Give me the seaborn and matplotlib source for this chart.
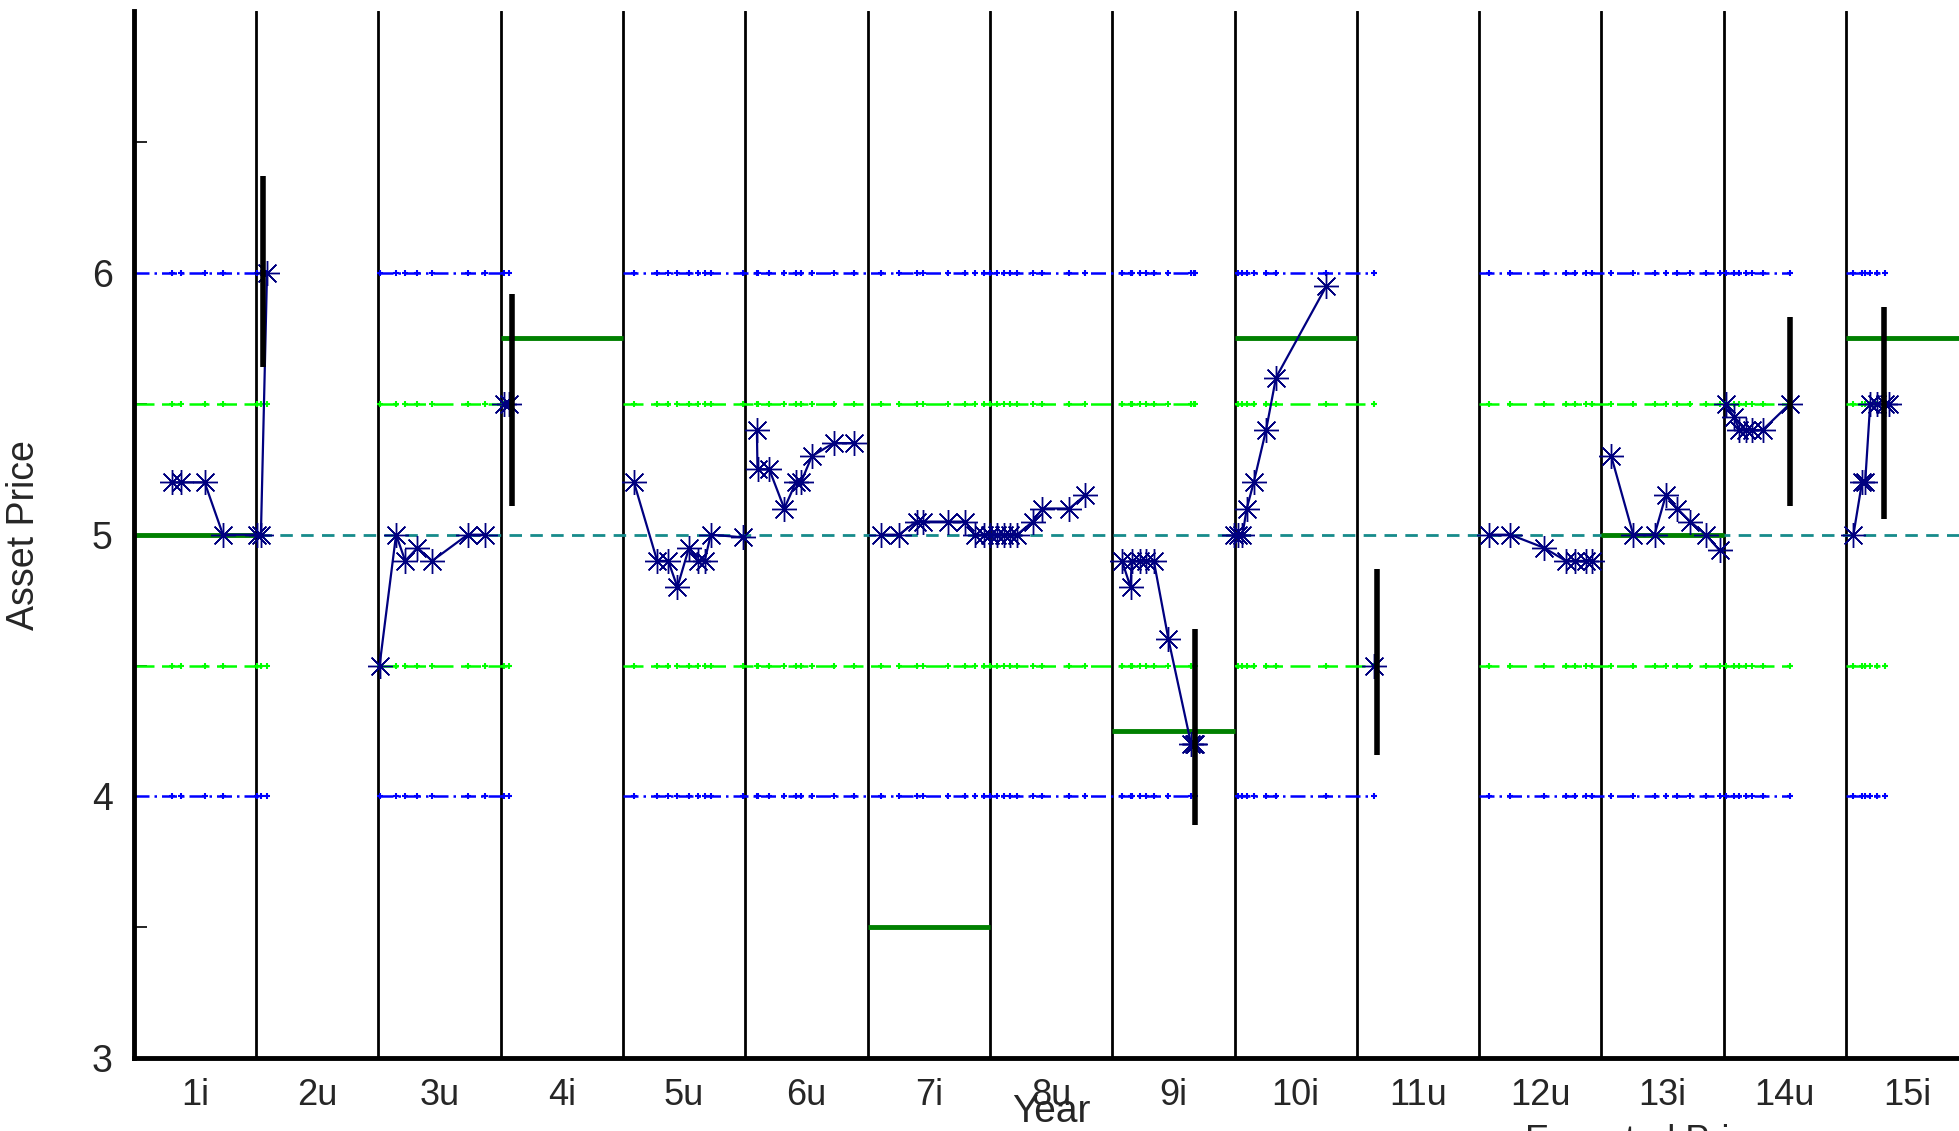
import numpy as np
import pandas as pd
import seaborn as sns
import matplotlib.pyplot as plt

# --- Categories ---
years = ["1i", "2u", "3u", "4i", "5u", "6u", "7i", "8u", "9i", "10i",
         "11u", "12u", "13i", "14u", "15i"]

# --- Asset price runs (x in year units, price) ---
run1_x = [0.31, 0.39, 0.58, 0.73, 1.01, 1.04, 1.09]
run1_y = [5.2, 5.2, 5.2, 5.0, 5.0, 5.0, 6.0]
run2_x = [2.01, 2.145, 2.22, 2.32, 2.44, 2.73, 2.87]
run2_y = [4.5, 5.0, 4.9, 4.95, 4.9, 5.0, 5.0]
run3_x = [3.03, 3.07]
run3_y = [5.5, 5.5]
run4_x = [4.09, 4.28, 4.37, 4.445, 4.54, 4.614, 4.668, 4.718, 4.982]
run4_y = [5.2, 4.9, 4.9, 4.8, 4.95, 4.9, 4.9, 5.0, 4.99]
run5_x = [5.095, 5.10, 5.196, 5.319, 5.414, 5.455, 5.545, 5.722, 5.886]
run5_y = [5.4, 5.25, 5.25, 5.1, 5.2, 5.2, 5.3, 5.35, 5.35]
run6_x = [6.11, 6.255, 6.40, 6.45, 6.657, 6.80, 6.875, 6.95, 7.003,
          7.058, 7.113, 7.167, 7.222, 7.35, 7.43, 7.65, 7.777]
run6_y = [5.0, 5.0, 5.05, 5.05, 5.05, 5.05, 5.0, 5.0, 5.0,
          5.0, 5.0, 5.0, 5.0, 5.05, 5.1, 5.1, 5.15]
run7_x = [8.08, 8.15, 8.16, 8.23, 8.28, 8.34, 8.46, 8.645, 8.665, 8.68]
run7_y = [4.9, 4.8, 4.9, 4.9, 4.9, 4.9, 4.6, 4.2, 4.2, 4.2]
run8_x = [8.993, 9.03, 9.065, 9.10, 9.157, 9.258, 9.339, 9.751]
run8_y = [5.0, 5.0, 5.0, 5.1, 5.2, 5.4, 5.6, 5.95]
run9_x = [10.14]
run9_y = [4.5]
run10_x = [11.083, 11.255, 11.53, 11.709, 11.787, 11.873, 11.925]
run10_y = [5.0, 5.0, 4.95, 4.9, 4.9, 4.9, 4.9]
run11_x = [12.08, 12.26, 12.434, 12.526, 12.619, 12.726, 12.853, 12.966]
run11_y = [5.3, 5.0, 5.0, 5.15, 5.1, 5.05, 5.0, 4.94]
run12_x = [13.015, 13.083, 13.128, 13.18, 13.23, 13.318, 13.54]
run12_y = [5.5, 5.45, 5.4, 5.4, 5.4, 5.4, 5.5]
run13_x = [14.06, 14.13, 14.156, 14.197, 14.25, 14.32, 14.35]
run13_y = [5.0, 5.2, 5.2, 5.5, 5.5, 5.5, 5.5]

# --- Band segments (outer 4/6, inner 4.5/5.5) ---
band_start = [0, 2, 4, 9, 11, 14]
band_end = [1.05, 3.05, 8.65, 10.14, 13.53, 14.28]
outer_levels = [4.0, 6.0]
inner_levels = [4.5, 5.5]
mid_level = 5.0

# --- Expected level for "i" years ---
level_year = [1, 4, 7, 9, 10, 13, 15]
level_value = [5.0, 5.75, 3.5, 4.25, 5.75, 5.0, 5.75]

# --- Range bars ---
bar_x = [1.057, 3.09, 8.674, 10.165, 13.54, 14.31]
bar_low = [5.64, 5.11, 3.89, 4.16, 5.11, 5.06]
bar_high = [6.37, 5.92, 4.64, 4.87, 5.83, 5.87]

runs = [(run1_x, run1_y), (run2_x, run2_y), (run3_x, run3_y), (run4_x, run4_y),
        (run5_x, run5_y), (run6_x, run6_y), (run7_x, run7_y), (run8_x, run8_y),
        (run9_x, run9_y), (run10_x, run10_y), (run11_x, run11_y),
        (run12_x, run12_y), (run13_x, run13_y)]
rows = []
for k, (xs, ys) in enumerate(runs):
    for x, y in zip(xs, ys):
        rows.append({"t": x, "price": y, "run": k})
prices = pd.DataFrame(rows)

sns.set_style("white")
plt.rcParams["font.family"] = ["Liberation Sans", "DejaVu Sans"]

fig = plt.figure(figsize=(19.59, 11.31), dpi=100)
ax = fig.add_axes([0.06825, 0.06437, 0.93655, 0.92573])

# year separators
for b in range(1, 15):
    ax.axvline(b, color="black", lw=2, zorder=1)

# bands
for s, e in zip(band_start, band_end):
    pts = prices.t[(prices.t >= s) & (prices.t <= e + 0.05)]
    for lv in outer_levels:
        ax.hlines(lv, s, e, colors="#0000ff", linestyles=(0, (6, 2, 1, 2)), lw=1.8, zorder=2)
        ax.plot(pts, np.full(len(pts), lv), ls="none", marker="+", ms=5, mew=1.5,
                color="#0000ff", zorder=2)
    for lv in inner_levels:
        ax.hlines(lv, s, e, colors="#00ff00", linestyles=(0, (8, 3)), lw=1.8, zorder=2)
        ax.plot(pts, np.full(len(pts), lv), ls="none", marker="+", ms=5, mew=1.5,
                color="#00ff00", zorder=2)

ax.axhline(mid_level, color="#168b8b", ls=(0, (4.5, 3)), lw=2, zorder=2)

# expected level per "i" year
for yr, v in zip(level_year, level_value):
    ax.hlines(v, yr - 1, yr, colors="#008000", lw=3.5, zorder=3)

# asset price
sns.lineplot(data=prices, x="t", y="price", units="run", estimator=None,
             color="#000080", lw=1.6, marker=(8, 2, 0), ms=18,
             markeredgecolor="#000080", markeredgewidth=1.0, ax=ax, zorder=4)

# range bars
ax.vlines(bar_x, bar_low, bar_high, colors="black", lw=4, zorder=5)

ax.set_xlim(0, 15)
ax.set_ylim(3, 7)
ax.set_xticks(np.arange(15) + 0.5)
ax.set_xticklabels(years)
ax.tick_params(axis="x", length=0, pad=14, labelsize=26)
ax.set_yticks([3, 4, 5, 6])
ax.set_yticks([3.5, 4.5, 5.5, 6.5], minor=True)
ax.tick_params(axis="y", which="major", direction="in", length=28, width=1.2,
               pad=15, labelsize=27, color="black")
ax.tick_params(axis="y", which="minor", direction="in", length=9.5, width=1.2,
               color="black", left=True)

for side in ["top", "right"]:
    ax.spines[side].set_visible(False)
for side in ["left", "bottom"]:
    ax.spines[side].set_linewidth(3.5)
    ax.spines[side].set_color("black")
    ax.spines[side].set_zorder(6)

ax.set_xlabel("Year", fontsize=28)
ax.xaxis.set_label_coords(0.5, -0.034)
ax.set_ylabel("Asset Price", fontsize=27)
ax.yaxis.set_label_coords(-0.050, 0.5)

fig.text(0.7785, 1 - 1124 / 1131, "Expected Price", fontsize=26, va="top", ha="left")

fig.savefig("out.png", dpi=100)
